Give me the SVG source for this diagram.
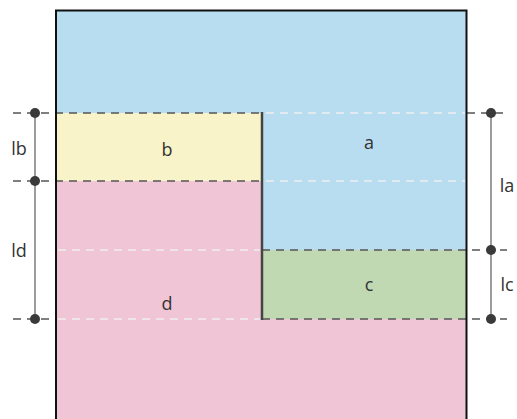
<svg xmlns="http://www.w3.org/2000/svg" width="517" height="419" viewBox="0 0 517 419">
<style>
.lbl{font-family:"Open Sans","Liberation Sans",sans-serif;font-size:18px;fill:#333;text-anchor:middle}
.dk{stroke:#555;stroke-width:1.3;stroke-dasharray:8 6;fill:none}
.wt{stroke:#eee;stroke-width:1.3;stroke-dasharray:8 6;fill:none}
.dim{stroke:#666;stroke-width:1.3;fill:none}
.dot{fill:#3a3a3a}
</style>
<rect x="0" y="0" width="517" height="419" fill="#fff"/>
<g id="a"><rect x="55" y="10" width="412" height="240" fill="#b9ddf0"/><text class="lbl" x="369" y="149">a</text></g>
<g id="d"><path d="M55 181H262V319H467V430H55Z" fill="#f0c5d6"/><text class="lbl" x="167" y="310">d</text></g>
<g id="b"><rect x="55" y="113" width="207" height="68" fill="#f8f3c8"/><text class="lbl" x="167" y="156">b</text></g>
<g id="c"><rect x="262" y="250" width="205" height="69" fill="#c0d9b3"/><text class="lbl" x="369" y="291">c</text></g>
<g id="connectors">
<line class="dk" x1="13" y1="113" x2="262" y2="113"/>
<line class="wt" x1="266" y1="113" x2="465" y2="113"/>
<line class="dk" x1="467" y1="113" x2="507" y2="113"/>
<line class="dk" x1="13" y1="181" x2="262" y2="181"/>
<line class="wt" x1="266" y1="181" x2="465" y2="181"/>
<line class="wt" x1="58" y1="250" x2="260" y2="250"/>
<line class="dk" x1="262" y1="250" x2="507" y2="250"/>
<line class="dk" x1="13" y1="319" x2="55" y2="319"/>
<line class="wt" x1="58" y1="319" x2="260" y2="319"/>
<line class="dk" x1="262" y1="319" x2="507" y2="319"/>
<line stroke="#444" stroke-width="2.5" x1="262" y1="112" x2="262" y2="320"/>
<line class="dim" x1="35" y1="113" x2="35" y2="319"/>
<line class="dim" x1="491" y1="113" x2="491" y2="319"/>
<circle class="dot" cx="35" cy="113" r="5"/>
<circle class="dot" cx="35" cy="181" r="5"/>
<circle class="dot" cx="35" cy="319" r="5"/>
<circle class="dot" cx="491" cy="113" r="5"/>
<circle class="dot" cx="491" cy="250" r="5"/>
<circle class="dot" cx="491" cy="319" r="5"/>
</g>
<path d="M56 430V10.5H466.5V430" fill="none" stroke="#111" stroke-width="2"/>
<g id="labels">
<text class="lbl" x="19" y="155">lb</text>
<text class="lbl" x="19" y="257">ld</text>
<text class="lbl" x="507" y="192">la</text>
<text class="lbl" x="507" y="291">lc</text>
</g>
</svg>
